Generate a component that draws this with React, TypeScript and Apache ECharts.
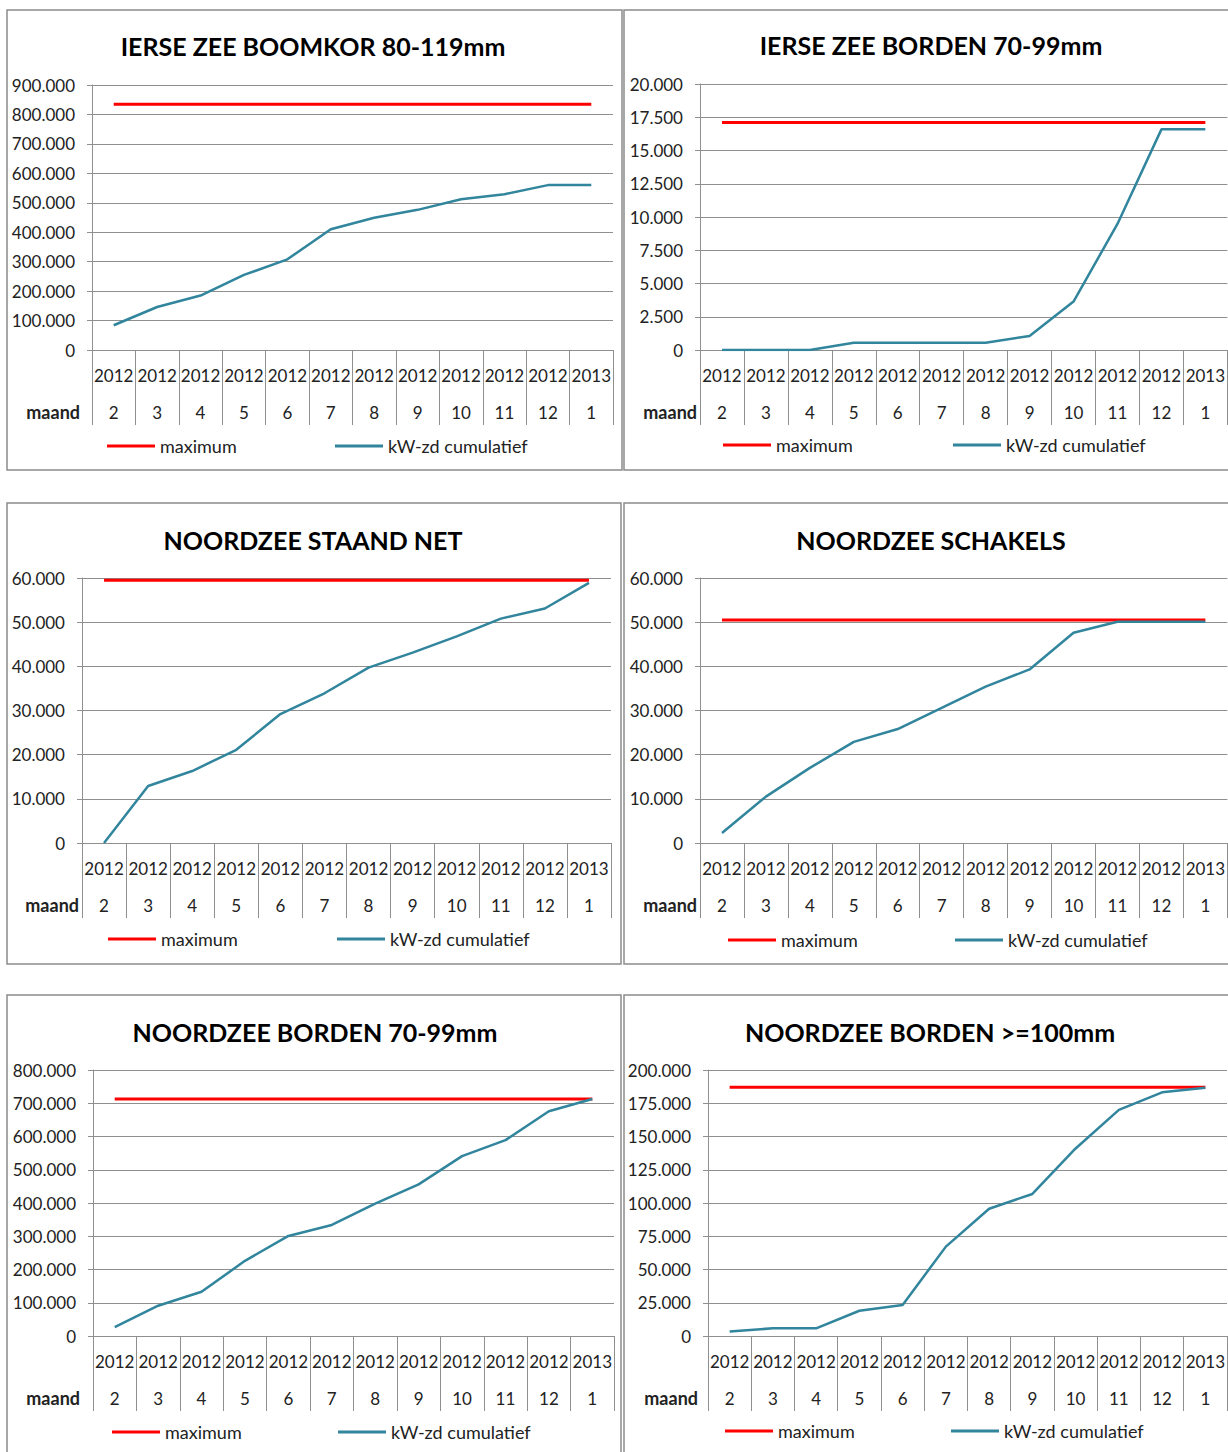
import React, { useEffect, useRef } from "react";
import * as echarts from "echarts";

// ---- data ----
const months = ["2", "3", "4", "5", "6", "7", "8", "9", "10", "11", "12", "1"];
const years = ["2012", "2012", "2012", "2012", "2012", "2012", "2012", "2012", "2012", "2012", "2012", "2013"];

const titles = [
  "IERSE ZEE BOOMKOR 80-119mm",
  "IERSE ZEE BORDEN 70-99mm",
  "NOORDZEE STAAND NET",
  "NOORDZEE SCHAKELS",
  "NOORDZEE BORDEN 70-99mm",
  "NOORDZEE BORDEN >=100mm",
];

const boomkorMax = [835000, 835000, 835000, 835000, 835000, 835000, 835000, 835000, 835000, 835000, 835000, 835000];
const boomkorCum = [84000, 146000, 185000, 255000, 308000, 410000, 449000, 476000, 512000, 529000, 560000, 560000];

const iersBordenMax = [17100, 17100, 17100, 17100, 17100, 17100, 17100, 17100, 17100, 17100, 17100, 17100];
const iersBordenCum = [0, 0, 0, 550, 550, 550, 550, 1050, 3640, 9480, 16590, 16590];

const staandNetMax = [59500, 59500, 59500, 59500, 59500, 59500, 59500, 59500, 59500, 59500, 59500, 59500];
const staandNetCum = [0, 12900, 16300, 21100, 29200, 33900, 39700, 43100, 46800, 50800, 53100, 58900];

const schakelsMax = [50500, 50500, 50500, 50500, 50500, 50500, 50500, 50500, 50500, 50500, 50500, 50500];
const schakelsCum = [2250, 10500, 17000, 22900, 25800, 30600, 35400, 39300, 47600, 50100, 50100, 50100];

const nzBorden70Max = [713000, 713000, 713000, 713000, 713000, 713000, 713000, 713000, 713000, 713000, 713000, 713000];
const nzBorden70Cum = [27000, 91000, 133000, 226000, 301000, 334000, 398000, 456000, 541000, 589000, 676000, 713000];

const nzBorden100Max = [187000, 187000, 187000, 187000, 187000, 187000, 187000, 187000, 187000, 187000, 187000, 187000];
const nzBorden100Cum = [3300, 5800, 5800, 19000, 23300, 67200, 95700, 106800, 141000, 170000, 183200, 186700];

const yMaxes = [900000, 20000, 60000, 60000, 800000, 200000];
const yIntervals = [100000, 2500, 10000, 10000, 100000, 25000];

const maxSeries = [boomkorMax, iersBordenMax, staandNetMax, schakelsMax, nzBorden70Max, nzBorden100Max];
const cumSeries = [boomkorCum, iersBordenCum, staandNetCum, schakelsCum, nzBorden70Cum, nzBorden100Cum];

const legendNames = ["maximum", "kW-zd cumulatief"];
const xAxisName = "maand";

// ---- layout ----
const layout = [
  { box: [7, 10, 615, 460], tx: 313, ty: 46, left: 92, right: 613, top: 85, bottom: 350, maandR: 80, lr: 107, lt: 335, ly: 447 },
  { box: [624, 10, 640, 460], tx: 931, ty: 45, left: 700, right: 1229, top: 84, bottom: 350, maandR: 697, lr: 723, lt: 953, ly: 446 },
  { box: [7, 503, 614, 461], tx: 313, ty: 540, left: 82, right: 611, top: 578, bottom: 843, maandR: 79, lr: 108, lt: 337, ly: 940 },
  { box: [624, 503, 640, 461], tx: 931, ty: 540, left: 700, right: 1229, top: 578, bottom: 843, maandR: 697, lr: 728, lt: 955, ly: 941 },
  { box: [7, 995, 614, 480], tx: 315, ty: 1032, left: 93, right: 614, top: 1070, bottom: 1336, maandR: 80, lr: 112, lt: 338, ly: 1433 },
  { box: [624, 995, 640, 480], tx: 930, ty: 1032, left: 708, right: 1229, top: 1070, bottom: 1336, maandR: 698, lr: 725, lt: 951, ly: 1432 },
];

const FONT = "Lato";
const GRID_COLOR = "#8f8f8f";
const TEXT_COLOR = "#222222";
const RED = "#ff0000";
const TEAL = "#31859c";

function fmt(v: number): string {
  if (v === 0) return "0";
  return String(v).replace(/\B(?=(\d{3})+(?!\d))/g, ".");
}

export default function App() {
  const ref = useRef<HTMLDivElement>(null);
  useEffect(() => {
    document.body.style.margin = "0";
    if (!ref.current) return;
    const chart = echarts.init(ref.current, undefined, { renderer: "svg" });

    const grids: any[] = [];
    const xAxes: any[] = [];
    const yAxes: any[] = [];
    const series: any[] = [];
    const legends: any[] = [];
    const graphics: any[] = [];

    layout.forEach((L, i) => {
      grids.push({ left: L.left, top: L.top, width: L.right - L.left, height: L.bottom - L.top, containLabel: false });
      xAxes.push({
        type: "category",
        gridIndex: i,
        data: months,
        boundaryGap: true,
        axisLine: { show: true, lineStyle: { color: GRID_COLOR, width: 1 } },
        axisTick: { show: true, length: 75, interval: 0, lineStyle: { color: GRID_COLOR, width: 1 } },
        axisLabel: {
          interval: 0,
          margin: 7,
          formatter: (value: string, idx: number) => `{y|${years[idx]}}\n{m|${value}}`,
          rich: {
            y: { fontFamily: FONT, fontSize: 17, lineHeight: 37, color: TEXT_COLOR },
            m: { fontFamily: FONT, fontSize: 17, lineHeight: 37, color: TEXT_COLOR },
          },
        },
        splitLine: { show: false },
      });
      yAxes.push({
        type: "value",
        gridIndex: i,
        min: 0,
        max: yMaxes[i],
        interval: yIntervals[i],
        axisLine: { show: true, lineStyle: { color: GRID_COLOR, width: 1 } },
        axisTick: { show: true, length: 5, lineStyle: { color: GRID_COLOR, width: 1 } },
        axisLabel: { margin: 17, fontFamily: FONT, fontSize: 17, color: TEXT_COLOR, formatter: (v: number) => fmt(v) },
        splitLine: { show: true, lineStyle: { color: GRID_COLOR, width: 1 } },
      });
      series.push({
        type: "line",
        name: legendNames[0],
        xAxisIndex: i,
        yAxisIndex: i,
        data: maxSeries[i],
        symbol: "none",
        lineStyle: { color: RED, width: 3 },
        itemStyle: { color: RED },
      });
      series.push({
        type: "line",
        name: legendNames[1],
        xAxisIndex: i,
        yAxisIndex: i,
        data: cumSeries[i],
        symbol: "none",
        lineStyle: { color: TEAL, width: 2.5 },
        itemStyle: { color: TEAL },
      });
      const legendBase = {
        padding: 0,
        icon: "rect",
        itemWidth: 48,
        itemHeight: 3,
        selectedMode: false,
        textStyle: { fontFamily: FONT, fontSize: 18, color: TEXT_COLOR },
      };
      legends.push({ ...legendBase, left: L.lr, top: L.ly - 10, data: [legendNames[0]] });
      legends.push({ ...legendBase, left: L.lt, top: L.ly - 10, data: [legendNames[1]] });

      graphics.push({
        type: "rect",
        shape: { x: L.box[0], y: L.box[1], width: L.box[2], height: L.box[3] },
        style: { fill: "none", stroke: "#8c8c8c", lineWidth: 1.5 },
        z: -10,
      });
      graphics.push({
        type: "text",
        x: L.tx,
        y: L.ty,
        style: {
          text: titles[i],
          textAlign: "center",
          textVerticalAlign: "middle",
          fontFamily: FONT,
          fontWeight: "bold",
          fontSize: 25,
          fill: "#000000",
        },
      });
      graphics.push({
        type: "text",
        x: L.maandR,
        y: L.bottom + 62,
        style: {
          text: xAxisName,
          textAlign: "right",
          textVerticalAlign: "middle",
          fontFamily: FONT,
          fontWeight: "bold",
          fontSize: 18,
          fill: TEXT_COLOR,
        },
      });
    });

    chart.setOption({
      animation: false,
      backgroundColor: "#ffffff",
      grid: grids,
      xAxis: xAxes,
      yAxis: yAxes,
      series,
      legend: legends,
      graphic: graphics,
    });
    return () => chart.dispose();
  }, []);
  return <div ref={ref} style={{ width: 1228, height: 1452 }} />;
}
